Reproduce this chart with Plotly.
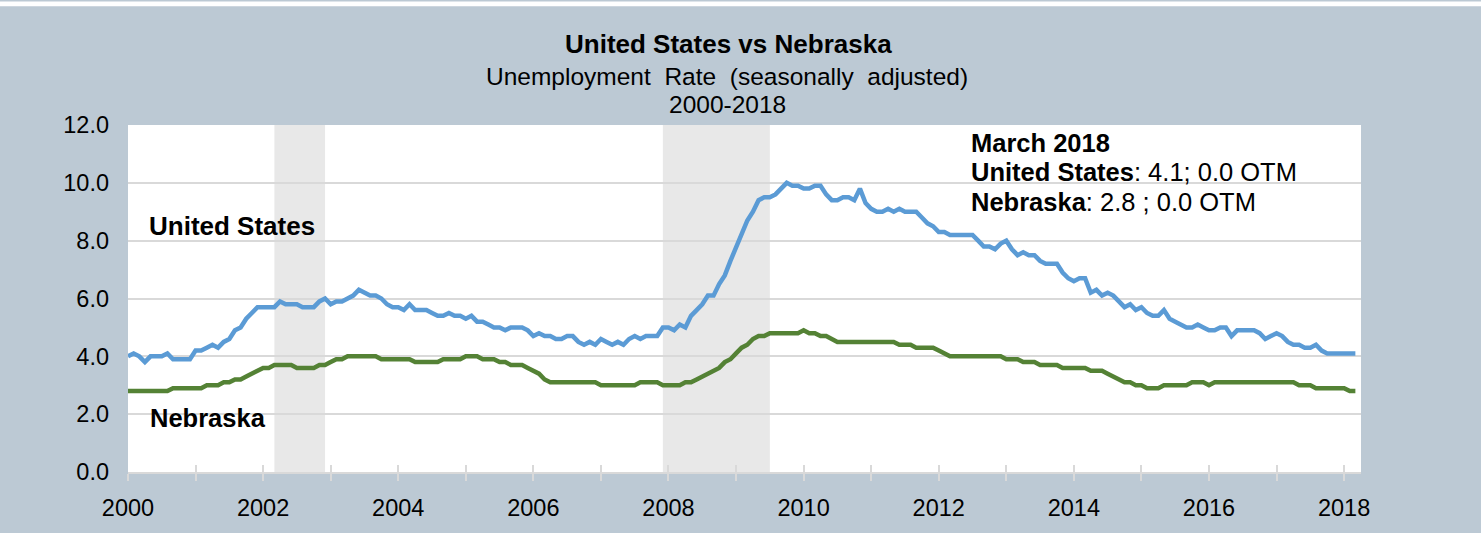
import plotly.graph_objects as go

# ---------------- data ----------------
start_year = 2000
us_rate = [
    4.0, 4.1, 4.0, 3.8, 4.0, 4.0, 4.0, 4.1, 3.9, 3.9, 3.9, 3.9,   # 2000
    4.2, 4.2, 4.3, 4.4, 4.3, 4.5, 4.6, 4.9, 5.0, 5.3, 5.5, 5.7,   # 2001
    5.7, 5.7, 5.7, 5.9, 5.8, 5.8, 5.8, 5.7, 5.7, 5.7, 5.9, 6.0,   # 2002
    5.8, 5.9, 5.9, 6.0, 6.1, 6.3, 6.2, 6.1, 6.1, 6.0, 5.8, 5.7,   # 2003
    5.7, 5.6, 5.8, 5.6, 5.6, 5.6, 5.5, 5.4, 5.4, 5.5, 5.4, 5.4,   # 2004
    5.3, 5.4, 5.2, 5.2, 5.1, 5.0, 5.0, 4.9, 5.0, 5.0, 5.0, 4.9,   # 2005
    4.7, 4.8, 4.7, 4.7, 4.6, 4.6, 4.7, 4.7, 4.5, 4.4, 4.5, 4.4,   # 2006
    4.6, 4.5, 4.4, 4.5, 4.4, 4.6, 4.7, 4.6, 4.7, 4.7, 4.7, 5.0,   # 2007
    5.0, 4.9, 5.1, 5.0, 5.4, 5.6, 5.8, 6.1, 6.1, 6.5, 6.8, 7.3,   # 2008
    7.8, 8.3, 8.7, 9.0, 9.4, 9.5, 9.5, 9.6, 9.8, 10.0, 9.9, 9.9,  # 2009
    9.8, 9.8, 9.9, 9.9, 9.6, 9.4, 9.4, 9.5, 9.5, 9.4, 9.8, 9.3,   # 2010
    9.1, 9.0, 9.0, 9.1, 9.0, 9.1, 9.0, 9.0, 9.0, 8.8, 8.6, 8.5,   # 2011
    8.3, 8.3, 8.2, 8.2, 8.2, 8.2, 8.2, 8.0, 7.8, 7.8, 7.7, 7.9,   # 2012
    8.0, 7.7, 7.5, 7.6, 7.5, 7.5, 7.3, 7.2, 7.2, 7.2, 6.9, 6.7,   # 2013
    6.6, 6.7, 6.7, 6.2, 6.3, 6.1, 6.2, 6.1, 5.9, 5.7, 5.8, 5.6,   # 2014
    5.7, 5.5, 5.4, 5.4, 5.6, 5.3, 5.2, 5.1, 5.0, 5.0, 5.1, 5.0,   # 2015
    4.9, 4.9, 5.0, 5.0, 4.7, 4.9, 4.9, 4.9, 4.9, 4.8, 4.6, 4.7,   # 2016
    4.8, 4.7, 4.5, 4.4, 4.4, 4.3, 4.3, 4.4, 4.2, 4.1, 4.1, 4.1,   # 2017
    4.1, 4.1, 4.1,                                                # 2018
]
ne_rate = [
    2.8, 2.8, 2.8, 2.8, 2.8, 2.8, 2.8, 2.8, 2.9, 2.9, 2.9, 2.9,   # 2000
    2.9, 2.9, 3.0, 3.0, 3.0, 3.1, 3.1, 3.2, 3.2, 3.3, 3.4, 3.5,   # 2001
    3.6, 3.6, 3.7, 3.7, 3.7, 3.7, 3.6, 3.6, 3.6, 3.6, 3.7, 3.7,   # 2002
    3.8, 3.9, 3.9, 4.0, 4.0, 4.0, 4.0, 4.0, 4.0, 3.9, 3.9, 3.9,   # 2003
    3.9, 3.9, 3.9, 3.8, 3.8, 3.8, 3.8, 3.8, 3.9, 3.9, 3.9, 3.9,   # 2004
    4.0, 4.0, 4.0, 3.9, 3.9, 3.9, 3.8, 3.8, 3.7, 3.7, 3.7, 3.6,   # 2005
    3.5, 3.4, 3.2, 3.1, 3.1, 3.1, 3.1, 3.1, 3.1, 3.1, 3.1, 3.1,   # 2006
    3.0, 3.0, 3.0, 3.0, 3.0, 3.0, 3.0, 3.1, 3.1, 3.1, 3.1, 3.0,   # 2007
    3.0, 3.0, 3.0, 3.1, 3.1, 3.2, 3.3, 3.4, 3.5, 3.6, 3.8, 3.9,   # 2008
    4.1, 4.3, 4.4, 4.6, 4.7, 4.7, 4.8, 4.8, 4.8, 4.8, 4.8, 4.8,   # 2009
    4.9, 4.8, 4.8, 4.7, 4.7, 4.6, 4.5, 4.5, 4.5, 4.5, 4.5, 4.5,   # 2010
    4.5, 4.5, 4.5, 4.5, 4.5, 4.4, 4.4, 4.4, 4.3, 4.3, 4.3, 4.3,   # 2011
    4.2, 4.1, 4.0, 4.0, 4.0, 4.0, 4.0, 4.0, 4.0, 4.0, 4.0, 4.0,   # 2012
    3.9, 3.9, 3.9, 3.8, 3.8, 3.8, 3.7, 3.7, 3.7, 3.7, 3.6, 3.6,   # 2013
    3.6, 3.6, 3.6, 3.5, 3.5, 3.5, 3.4, 3.3, 3.2, 3.1, 3.1, 3.0,   # 2014
    3.0, 2.9, 2.9, 2.9, 3.0, 3.0, 3.0, 3.0, 3.0, 3.1, 3.1, 3.1,   # 2015
    3.0, 3.1, 3.1, 3.1, 3.1, 3.1, 3.1, 3.1, 3.1, 3.1, 3.1, 3.1,   # 2016
    3.1, 3.1, 3.1, 3.1, 3.0, 3.0, 3.0, 2.9, 2.9, 2.9, 2.9, 2.9,   # 2017
    2.9, 2.8, 2.8,                                                # 2018
]
# recession shading periods (decimal years, as drawn in the original)
recession_start = [2002 + 2 / 12, 2007 + 11 / 12]
recession_end = [2002 + 11 / 12, 2009 + 6 / 12]

year_ticks = list(range(2000, 2019))
year_labels = [str(y) if y % 2 == 0 else "" for y in year_ticks]
y_ticks = [0, 2, 4, 6, 8, 10, 12]

title = "<b>United States vs Nebraska</b>"
subtitle1 = "Unemployment  Rate  (seasonally  adjusted)"
subtitle2 = "2000-2018"
latest_lines = [
    "<b>March 2018</b>",
    "<b>United States</b>: 4.1; 0.0 OTM",
    "<b>Nebraska</b>: 2.8 ; 0.0 OTM",
]

# ---------------- figure ----------------
months = [start_year + i / 12 for i in range(len(us_rate))]

FONT = "Liberation Sans, Arial, sans-serif"
BG = "#BCC9D4"
GRID = "#D9D9D9"
BLUE = "#5B9BD5"
GREEN = "#548235"

fig = go.Figure()
fig.add_trace(go.Scatter(x=months, y=us_rate, mode="lines", name="United States",
                         line=dict(color=BLUE, width=4.5), hoverinfo="x+y"))
fig.add_trace(go.Scatter(x=months, y=ne_rate, mode="lines", name="Nebraska",
                         line=dict(color=GREEN, width=4.5), hoverinfo="x+y"))
# invisible trace on overlay axis (for inside tick marks)
fig.add_trace(go.Scatter(x=[months[0]], y=[0], xaxis="x2", mode="markers",
                         marker=dict(opacity=0), showlegend=False, hoverinfo="skip"))

for s, e in zip(recession_start, recession_end):
    fig.add_shape(type="rect", xref="x", yref="paper", x0=s, x1=e, y0=0, y1=1,
                  fillcolor="#E8E8E8", line_width=0, layer="below")

# thin white strip at the very top of the chart
L, R, T, B = 128, 120, 125, 57
W, H = 1481, 533
pw, ph = W - L - R, H - T - B
fig.add_shape(type="rect", xref="paper", yref="paper",
              x0=-L / pw, x1=1 + R / pw, y0=1 + (T - 5) / ph, y1=1 + T / ph,
              fillcolor="white", line_width=0, layer="above")

def px_x(p):
    return (p - L) / pw

def px_y(p):
    return 1 - (p - T) / ph

fig.add_annotation(text=title, xref="paper", yref="paper", x=px_x(728), y=px_y(43),
                   showarrow=False, font=dict(size=26, color="black", family=FONT),
                   xanchor="center", yanchor="middle")
fig.add_annotation(text=subtitle1, xref="paper", yref="paper", x=px_x(727), y=px_y(76),
                   showarrow=False, font=dict(size=24.5, color="black", family=FONT),
                   xanchor="center", yanchor="middle")
fig.add_annotation(text=subtitle2, xref="paper", yref="paper", x=px_x(727), y=px_y(104),
                   showarrow=False, font=dict(size=24.5, color="black", family=FONT),
                   xanchor="center", yanchor="middle")

fig.add_annotation(text="<b>United States</b>", xref="x", yref="y", x=2000.28, y=8.5,
                   showarrow=False, xanchor="left", yanchor="middle",
                   font=dict(size=26, color="black", family=FONT))
fig.add_annotation(text="<b>Nebraska</b>", xref="x", yref="y", x=2000.3, y=1.88,
                   showarrow=False, xanchor="left", yanchor="middle",
                   font=dict(size=25.5, color="black", family=FONT))

for txt, yv in zip(latest_lines, [11.38, 10.36, 9.33]):
    fig.add_annotation(text=txt, xref="x", yref="y", x=2012.45, y=yv,
                       showarrow=False, xanchor="left", yanchor="middle",
                       font=dict(size=25.5, color="black", family=FONT))

fig.update_layout(
    width=W, height=H,
    margin=dict(l=L, r=R, t=T, b=B, pad=0),
    paper_bgcolor=BG, plot_bgcolor="white",
    showlegend=False,
    font=dict(family=FONT, color="black", size=23),
    xaxis=dict(range=[2000, 2018.25], tickmode="array", tickvals=year_ticks,
               ticktext=year_labels, ticks="outside", ticklen=7, tickwidth=2,
               tickcolor=GRID, showline=True, linecolor=GRID, linewidth=2,
               showgrid=False, zeroline=False, ticklabelstandoff=7,
               tickfont=dict(size=23.5, family=FONT, color="black")),
    xaxis2=dict(overlaying="x", matches="x", anchor="y", side="bottom",
                tickmode="array", tickvals=year_ticks, showticklabels=False,
                ticks="inside", ticklen=7, tickwidth=2, tickcolor=GRID,
                showline=False, showgrid=False, zeroline=False),
    yaxis=dict(range=[0, 12], tickmode="array", tickvals=y_ticks, tickformat=".1f",
               showgrid=True, gridcolor=GRID, gridwidth=2, zeroline=False,
               showline=False, ticks="", ticklabelstandoff=18,
               tickfont=dict(size=23.5, family=FONT, color="black")),
)

fig.write_html("out.html", config={"displayModeBar": False},
               post_script="document.body.style.margin='0';")
